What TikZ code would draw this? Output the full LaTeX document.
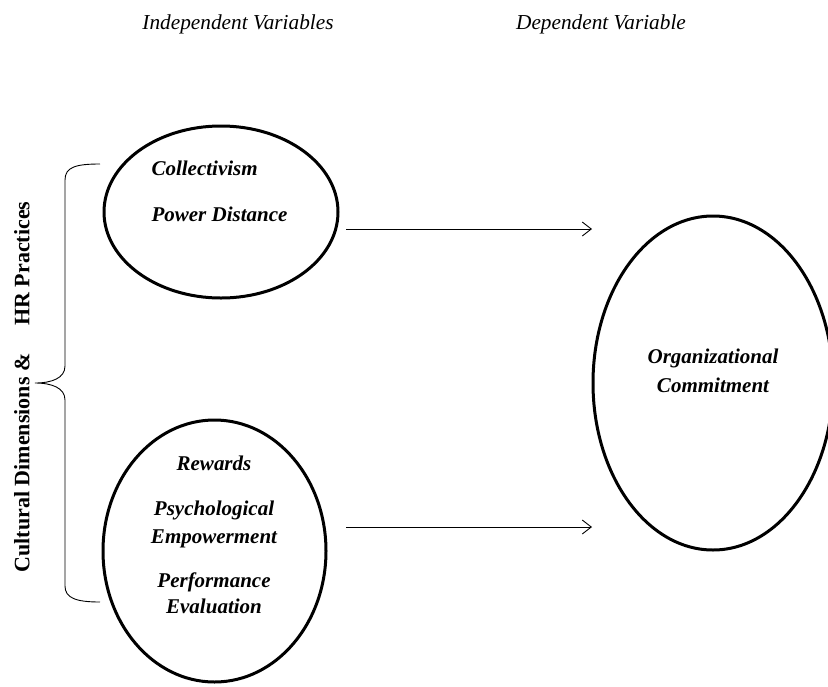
\documentclass[tikz,border=0pt]{standalone}
\usepackage{fontspec}
\setmainfont{Liberation Serif}
\usetikzlibrary{shapes.geometric,arrows.meta}
\begin{document}
\begin{tikzpicture}[x=1pt,y=-1pt,
  var/.style={draw,ellipse,line width=3pt,inner sep=0pt},
  lbl/.style={font=\fontsize{21}{24}\selectfont\bfseries\itshape,anchor=base},
  head/.style={font=\fontsize{21.3}{24}\selectfont\itshape,anchor=base},
  link/.style={line width=.9pt,-{Straight Barb[length=9pt,width=14pt]}}]
\useasboundingbox (0,0) rectangle (828,686);
% headings
\node[head] (indep) at (238,29) {Independent Variables};
\node[head] (dep) at (601,29) {Dependent Variable};
% the three variables
\node[var,minimum width=234pt,minimum height=172pt] (cult) at (221,212) {};
\node[var,minimum width=223pt,minimum height=262pt] (hr) at (214.5,551) {};
\node[var,minimum width=240pt,minimum height=334pt] (oc) at (713,383) {};
\node[lbl,anchor=base west] (coll) at (148,175) {Collectivism};
\node[lbl,anchor=base west] (pd) at (148,221) {Power Distance};
\node[lbl] (rew) at (214,470) {Rewards};
\node[lbl] (psy) at (214,515) {Psychological};
\node[lbl] (emp) at (214,543) {Empowerment};
\node[lbl] (perf) at (214,587) {Performance};
\node[lbl] (eval) at (214,613) {Evaluation};
\node[lbl] (org) at (713,363) {Organizational};
\node[lbl] (com) at (713,392) {Commitment};
% arrows
\coordinate (s1) at (346,229);
\coordinate (e1) at (592,229);
\coordinate (s2) at (346,527);
\coordinate (e2) at (592,527);
\draw[link] (s1) -- (e1);
\draw[link] (s2) -- (e2);
% brace and side label
\draw[line width=.9pt] (100,164) .. controls (76,164) and (65,167) .. (65,180) -- (65,366)
  .. controls (65,378) and (52,383) .. (35,383) .. controls (52,383) and (65,388) .. (65,400)
  -- (65,586) .. controls (65,598) and (76,602) .. (100,602);
\node[rotate=90,font=\fontsize{22}{24}\selectfont\bfseries] (side) at (22,387)
  {Cultural Dimensions \&\hspace{28pt}HR Practices};
\end{tikzpicture}
\end{document}
